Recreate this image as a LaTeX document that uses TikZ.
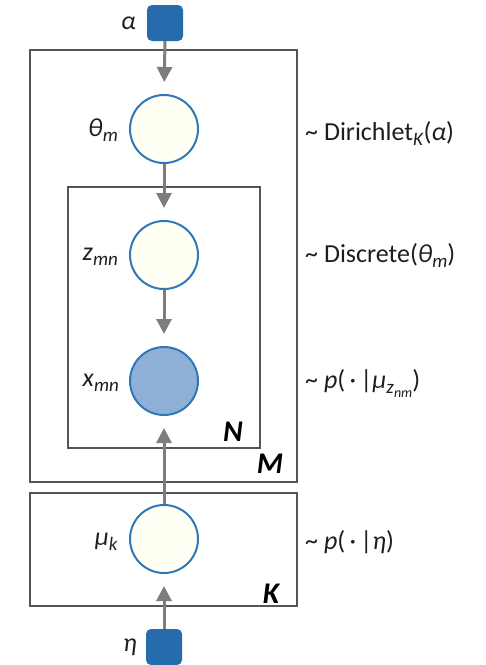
\documentclass[tikz,border=0pt]{standalone}
\usepackage{fontspec}
\setmainfont{Carlito}
\usetikzlibrary{arrows.meta}
\definecolor{nodeblue}{RGB}{46,120,186}
\definecolor{cream}{RGB}{255,255,244}
\definecolor{obsfill}{RGB}{143,176,214}
\definecolor{sqblue}{RGB}{38,108,172}
\definecolor{arrgray}{RGB}{125,125,125}
\definecolor{platecol}{RGB}{85,85,85}
\definecolor{txt}{RGB}{30,30,30}
\newcommand{\sbs}[1]{\raisebox{-5pt}{\fontsize{19}{19}\selectfont #1}}
\newcommand{\ssbs}[1]{\raisebox{-4pt}{\fontsize{14}{14}\selectfont #1}}
\begin{document}
\begin{tikzpicture}[x=1pt,y=-1pt,
  latent/.style={circle,draw=nodeblue,line width=2pt,fill=cream,minimum size=68pt,inner sep=0pt},
  observed/.style={latent,fill=obsfill},
  hyper/.style={rectangle,rounded corners=5pt,fill=sqblue,minimum size=36pt,inner sep=0pt},
  plate/.style={draw=platecol,line width=1.5pt},
  edge/.style={draw=arrgray,line width=3pt,shorten >=12pt,-{Triangle[length=15pt,width=15pt]}},
  lbl/.style={anchor=east,inner sep=0pt,text=txt,font=\fontsize{26}{30}\selectfont},
  dist/.style={anchor=west,inner sep=0pt,text=txt,font=\fontsize{26}{30}\selectfont},
  platelbl/.style={inner sep=0pt,text=black,font=\fontsize{30}{32}\selectfont\bfseries\itshape}]
\useasboundingbox (0,0) rectangle (486,665);
% plates
\draw[plate] (30,50) rectangle (297,482);
\draw[plate] (68,187) rectangle (260,448);
\draw[plate] (30,493) rectangle (297,606);
% nodes
\node[hyper] (alpha) at (165,23) {};
\node[latent] (theta) at (164,129) {};
\node[latent] (z) at (164,255) {};
\node[observed] (x) at (164,381) {};
\node[latent] (mu) at (164,539) {};
\node[hyper] (eta) at (164,647) {};
% left labels
\node[lbl] (lalpha) at (136,23) {\textit{α}};
\node[lbl] (ltheta) at (118,130) {\textit{θ}\sbs{\textit{m}}};
\node[lbl] (lz) at (118,257) {\textit{z}\sbs{\textit{mn}}};
\node[lbl] (lx) at (119,383) {\textit{x}\sbs{\textit{mn}}};
\node[lbl] (lmu) at (118,542) {\textit{μ}\sbs{\textit{k}}};
\node[lbl] (leta) at (137,647) {\textit{η}};
% distributions
\node[dist] (dtheta) at (305,133) {\textasciitilde{} Dirichlet\sbs{\textit{K}}(\textit{α})};
\node[dist] (dz) at (305,255) {\textasciitilde{} Discrete(\textit{θ}\sbs{\textit{m}})};
\node[dist] (dx) at (305,383) {\textasciitilde{} \textit{p}(\,·\,|\textit{μ}\sbs{\textit{z}\ssbs{\textit{nm}}})};
\node[dist] (dmu) at (305,542) {\textasciitilde{} \textit{p}(\,·\,|\textit{η})};
% plate labels
\node[platelbl] (pN) at (233,432) {N};
\node[platelbl] (pM) at (270,464) {M};
\node[platelbl] (pK) at (271,594) {K};
% edges
\draw[edge] (alpha.south) -- (theta.north);
\draw[edge] (theta.south) -- (z.north);
\draw[edge] (z.south) -- (x.north);
\draw[edge] (mu.north) -- (x.south);
\draw[edge] (eta.north) -- (mu.south);
\end{tikzpicture}
\end{document}
